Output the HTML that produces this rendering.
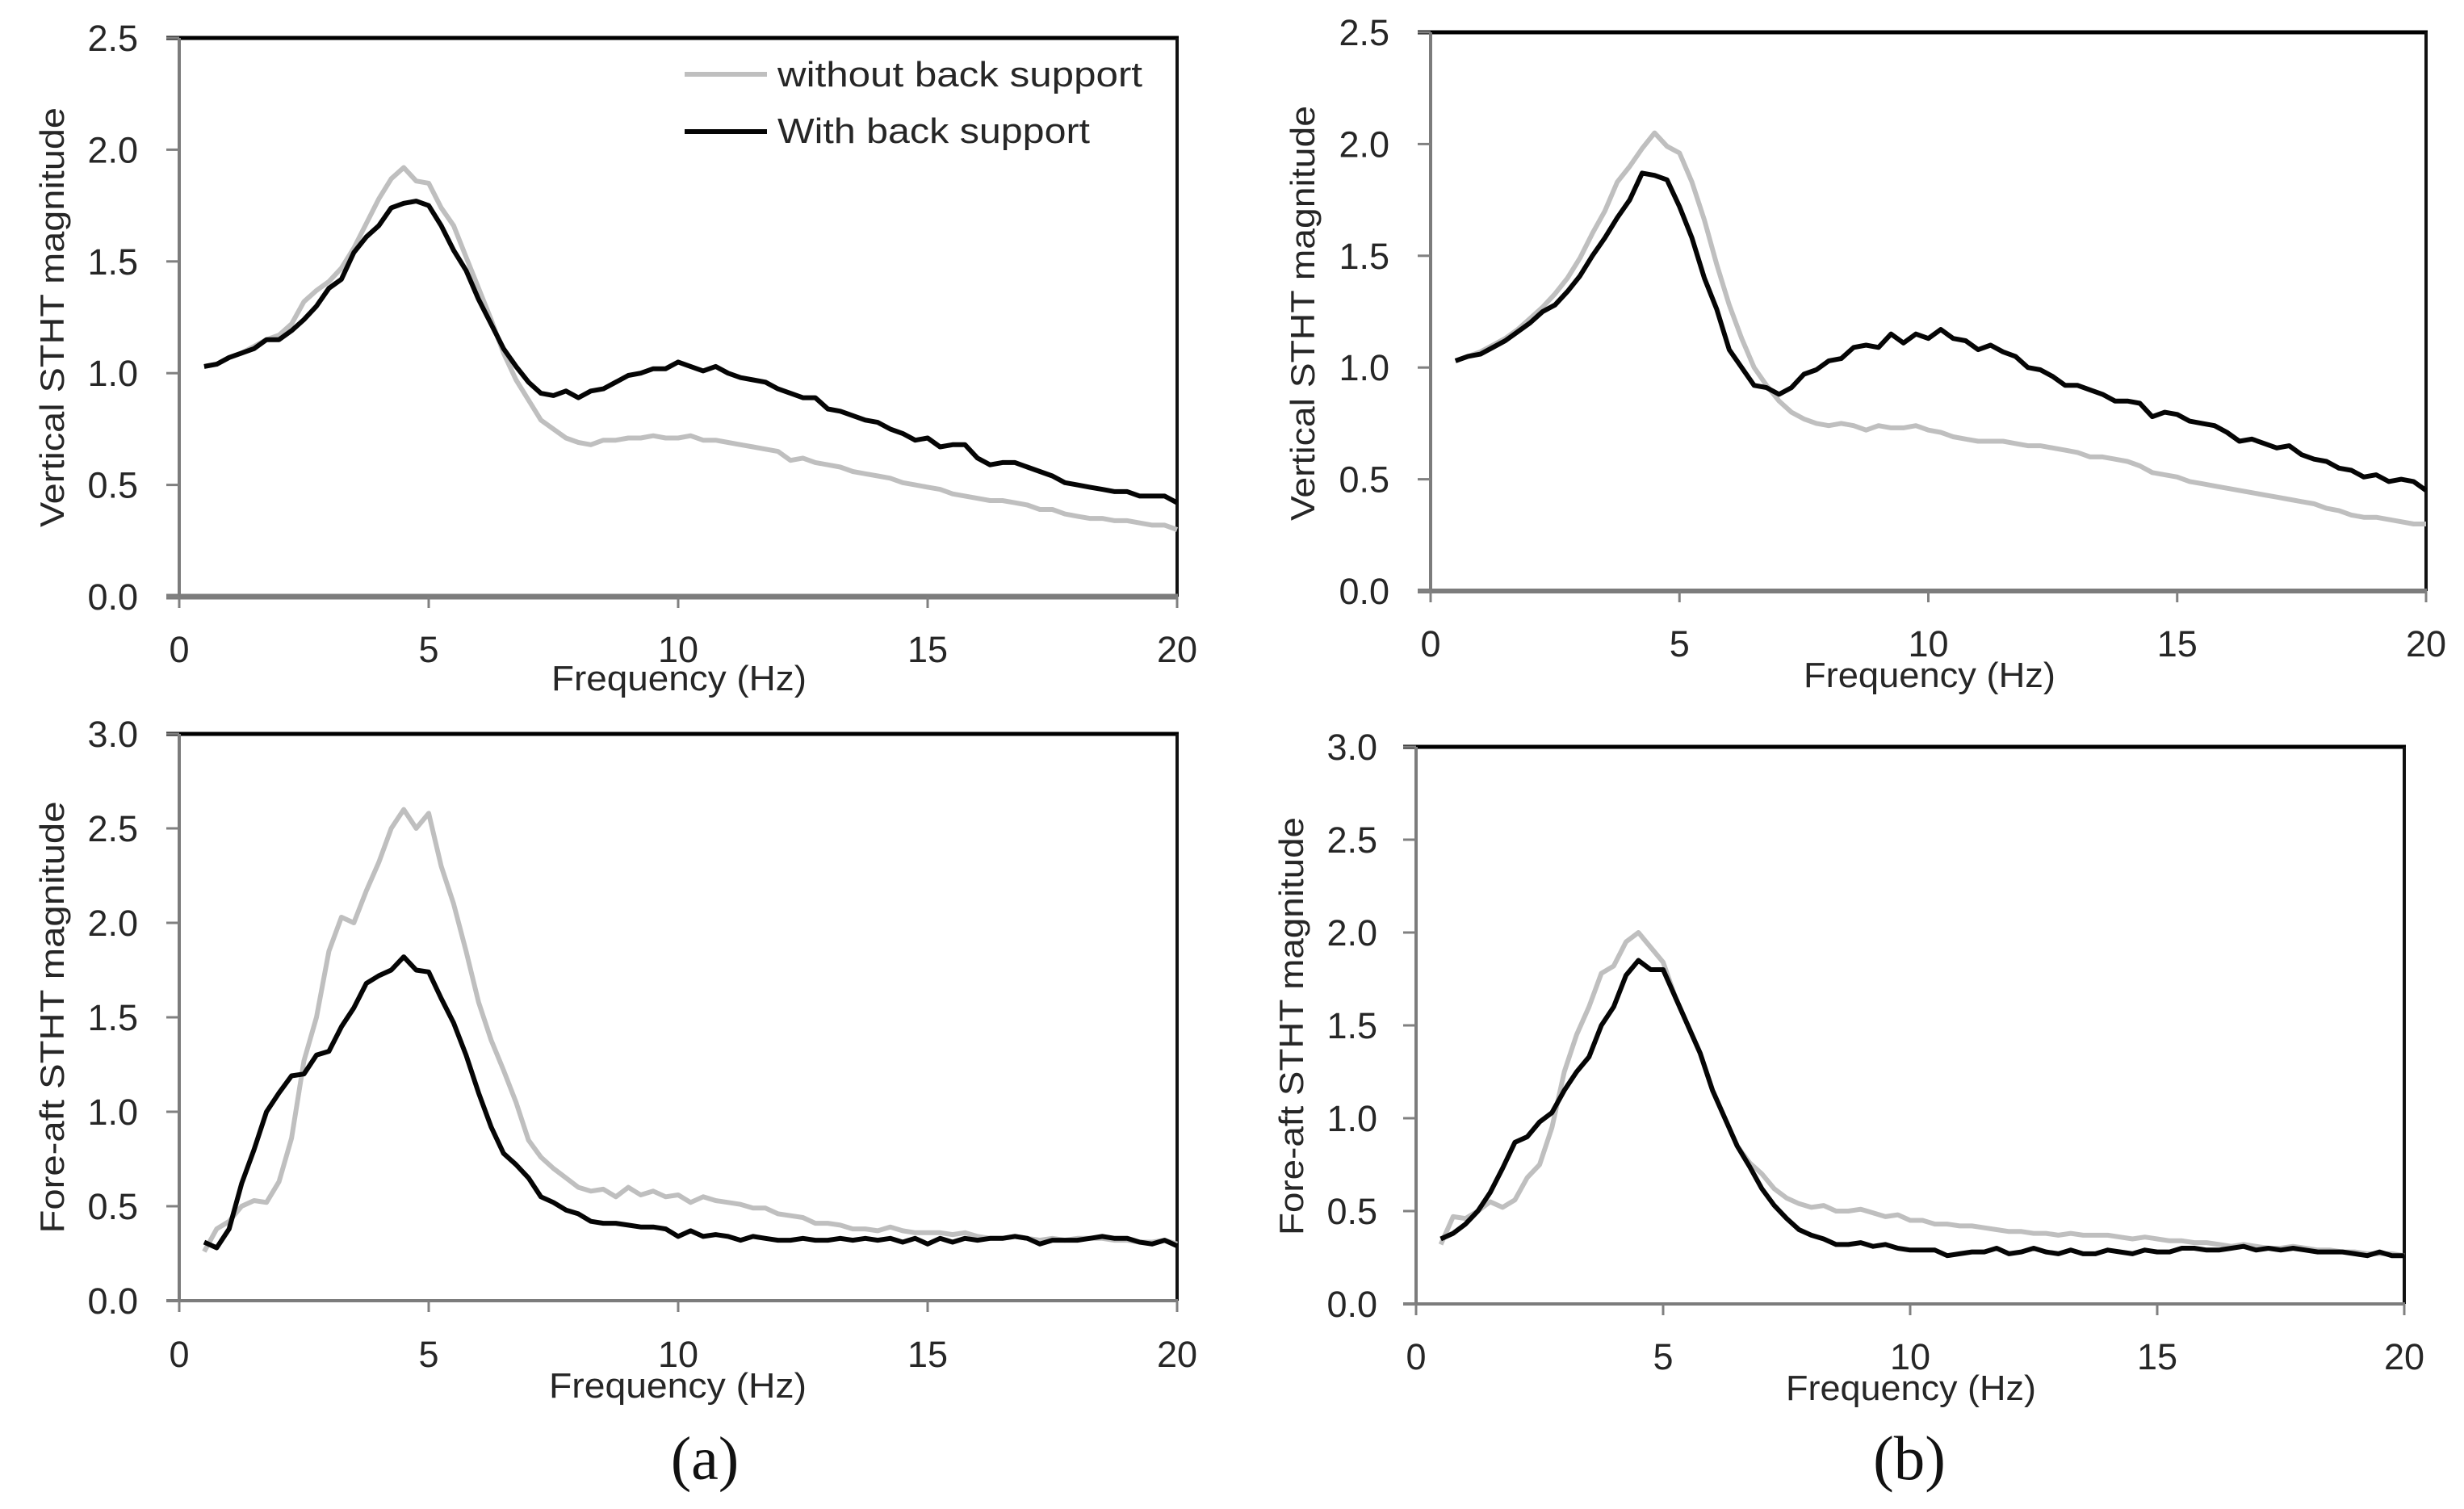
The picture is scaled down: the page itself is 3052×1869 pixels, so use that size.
<!DOCTYPE html>
<html>
<head>
<meta charset="utf-8">
<title>STHT magnitude charts</title>
<style>
html,body{margin:0;padding:0;background:#fff;}
svg{display:block;}
text{font-family:"Liberation Sans",sans-serif;fill:#262626;}
</style>
</head>
<body>
<svg id="figure" width="3052" height="1869" viewBox="0 0 3052 1869" xmlns="http://www.w3.org/2000/svg">
<rect width="3052" height="1869" fill="#ffffff"/>
</svg>
<script>
const freq = [
0.5,0.75,1,1.25,1.5,1.75,2,2.25,
2.5,2.75,3,3.25,3.5,3.75,4,4.25,
4.5,4.75,5,5.25,5.5,5.75,6,6.25,
6.5,6.75,7,7.25,7.5,7.75,8,8.25,
8.5,8.75,9,9.25,9.5,9.75,10,10.25,
10.5,10.75,11,11.25,11.5,11.75,12,12.25,
12.5,12.75,13,13.25,13.5,13.75,14,14.25,
14.5,14.75,15,15.25,15.5,15.75,16,16.25,
16.5,16.75,17,17.25,17.5,17.75,18,18.25,
18.5,18.75,19,19.25,19.5,19.75,20];
const xTickLabels = ["0","5","10","15","20"];
const yTicksVertical = ["0.0","0.5","1.0","1.5","2.0","2.5"];
const yTicksForeAft = ["0.0","0.5","1.0","1.5","2.0","2.5","3.0"];

const vertA_without = [
1.03,1.04,1.07,1.09,1.12,1.15,1.17,1.22,
1.32,1.37,1.41,1.47,1.56,1.67,1.78,1.87,
1.92,1.86,1.85,1.74,1.66,1.52,1.38,1.24,
1.09,0.97,0.88,0.79,0.75,0.71,0.69,0.68,
0.70,0.70,0.71,0.71,0.72,0.71,0.71,0.72,
0.70,0.70,0.69,0.68,0.67,0.66,0.65,0.61,
0.62,0.60,0.59,0.58,0.56,0.55,0.54,0.53,
0.51,0.50,0.49,0.48,0.46,0.45,0.44,0.43,
0.43,0.42,0.41,0.39,0.39,0.37,0.36,0.35,
0.35,0.34,0.34,0.33,0.32,0.32,0.30];
const vertA_with = [
1.03,1.04,1.07,1.09,1.11,1.15,1.15,1.19,
1.24,1.30,1.38,1.42,1.54,1.61,1.66,1.74,
1.76,1.77,1.75,1.66,1.55,1.46,1.33,1.22,
1.11,1.03,0.96,0.91,0.90,0.92,0.89,0.92,
0.93,0.96,0.99,1.00,1.02,1.02,1.05,1.03,
1.01,1.03,1.00,0.98,0.97,0.96,0.93,0.91,
0.89,0.89,0.84,0.83,0.81,0.79,0.78,0.75,
0.73,0.70,0.71,0.67,0.68,0.68,0.62,0.59,
0.60,0.60,0.58,0.56,0.54,0.51,0.50,0.49,
0.48,0.47,0.47,0.45,0.45,0.45,0.42];
const vertB_without = [
1.03,1.05,1.07,1.10,1.13,1.17,1.22,1.27,
1.33,1.40,1.49,1.60,1.70,1.83,1.90,1.98,
2.05,1.99,1.96,1.83,1.66,1.46,1.28,1.13,
1.00,0.92,0.85,0.80,0.77,0.75,0.74,0.75,
0.74,0.72,0.74,0.73,0.73,0.74,0.72,0.71,
0.69,0.68,0.67,0.67,0.67,0.66,0.65,0.65,
0.64,0.63,0.62,0.60,0.60,0.59,0.58,0.56,
0.53,0.52,0.51,0.49,0.48,0.47,0.46,0.45,
0.44,0.43,0.42,0.41,0.40,0.39,0.37,0.36,
0.34,0.33,0.33,0.32,0.31,0.30,0.30];
const vertB_with = [
1.03,1.05,1.06,1.09,1.12,1.16,1.20,1.25,
1.28,1.34,1.41,1.50,1.58,1.67,1.75,1.87,
1.86,1.84,1.72,1.58,1.40,1.26,1.08,1.00,
0.92,0.91,0.88,0.91,0.97,0.99,1.03,1.04,
1.09,1.10,1.09,1.15,1.11,1.15,1.13,1.17,
1.13,1.12,1.08,1.10,1.07,1.05,1.00,0.99,
0.96,0.92,0.92,0.90,0.88,0.85,0.85,0.84,
0.78,0.80,0.79,0.76,0.75,0.74,0.71,0.67,
0.68,0.66,0.64,0.65,0.61,0.59,0.58,0.55,
0.54,0.51,0.52,0.49,0.50,0.49,0.45];
const foreA_without = [
0.26,0.38,0.42,0.50,0.53,0.52,0.63,0.86,
1.27,1.50,1.85,2.03,2.00,2.17,2.32,2.50,
2.60,2.50,2.58,2.30,2.10,1.85,1.58,1.38,
1.22,1.05,0.85,0.76,0.70,0.65,0.60,0.58,
0.59,0.55,0.60,0.56,0.58,0.55,0.56,0.52,
0.55,0.53,0.52,0.51,0.49,0.49,0.46,0.45,
0.44,0.41,0.41,0.40,0.38,0.38,0.37,0.39,
0.37,0.36,0.36,0.36,0.35,0.36,0.34,0.33,
0.33,0.34,0.33,0.32,0.33,0.32,0.33,0.33,
0.33,0.32,0.32,0.31,0.31,0.32,0.30];
const foreA_with = [
0.31,0.28,0.38,0.62,0.80,1.00,1.10,1.19,
1.20,1.30,1.32,1.45,1.55,1.68,1.72,1.75,
1.82,1.75,1.74,1.60,1.47,1.30,1.10,0.92,
0.78,0.72,0.65,0.55,0.52,0.48,0.46,0.42,
0.41,0.41,0.40,0.39,0.39,0.38,0.34,0.37,
0.34,0.35,0.34,0.32,0.34,0.33,0.32,0.32,
0.33,0.32,0.32,0.33,0.32,0.33,0.32,0.33,
0.31,0.33,0.30,0.33,0.31,0.33,0.32,0.33,
0.33,0.34,0.33,0.30,0.32,0.32,0.32,0.33,
0.34,0.33,0.33,0.31,0.30,0.32,0.29];
const foreB_without = [
0.32,0.47,0.46,0.50,0.55,0.52,0.56,0.68,
0.75,0.95,1.25,1.45,1.60,1.78,1.82,1.95,
2.00,1.92,1.84,1.65,1.50,1.35,1.15,1.00,
0.85,0.76,0.70,0.62,0.57,0.54,0.52,0.53,
0.50,0.50,0.51,0.49,0.47,0.48,0.45,0.45,
0.43,0.43,0.42,0.42,0.41,0.40,0.39,0.39,
0.38,0.38,0.37,0.38,0.37,0.37,0.37,0.36,
0.35,0.36,0.35,0.34,0.34,0.33,0.33,0.32,
0.31,0.32,0.31,0.30,0.30,0.31,0.30,0.29,
0.29,0.28,0.28,0.27,0.27,0.27,0.26];
const foreB_with = [
0.35,0.38,0.43,0.50,0.60,0.73,0.87,0.90,
0.98,1.03,1.15,1.25,1.33,1.50,1.60,1.77,
1.85,1.80,1.80,1.65,1.50,1.35,1.15,1.00,
0.85,0.74,0.62,0.53,0.46,0.40,0.37,0.35,
0.32,0.32,0.33,0.31,0.32,0.30,0.29,0.29,
0.29,0.26,0.27,0.28,0.28,0.30,0.27,0.28,
0.30,0.28,0.27,0.29,0.27,0.27,0.29,0.28,
0.27,0.29,0.28,0.28,0.30,0.30,0.29,0.29,
0.30,0.31,0.29,0.30,0.29,0.30,0.29,0.28,
0.28,0.28,0.27,0.26,0.28,0.26,0.26];

const NS = "http://www.w3.org/2000/svg";
const svg = document.getElementById("figure");

function make(parent, tag, attrs, txt){
  const e = document.createElementNS(NS, tag);
  for (const k in attrs) e.setAttribute(k, attrs[k]);
  if (txt !== undefined) e.textContent = txt;
  parent.appendChild(e);
  return e;
}

function drawPanel(p){
  const g = make(svg, "g", {});
  
  
  const xMax = Number(xTickLabels[xTickLabels.length - 1]);
  const yMax = Number(p.yTicks[p.yTicks.length - 1]);
  const sx = v => p.left + (v / xMax) * (p.right - p.left);
  const sy = v => p.bottom - (v / yMax) * (p.bottom - p.top);

  const plot = make(g, "rect", {x:p.left, y:p.top, width:p.right-p.left, height:p.bottom-p.top, fill:"#fff"});
  
  

  const topBorder = make(g, "line", {x1:p.left-16, x2:p.right+2, y1:p.top, y2:p.top, stroke:"#000", "stroke-width":5});
  
  
  const rightBorder = make(g, "line", {x1:p.right, x2:p.right, y1:p.top, y2:p.bottom, stroke:"#111", "stroke-width":4});
  
  
  const yAxis = make(g, "line", {x1:p.left, x2:p.left, y1:p.top, y2:p.bottom, stroke:"#7c7c7c", "stroke-width":4});
  
  
  const xAxis = make(g, "line", {x1:p.left-16, x2:p.right+1, y1:p.bottom, y2:p.bottom, stroke:"#7c7c7c", "stroke-width":p.axisWidth});
  
  

  p.yTicks.forEach(function(label){
    const y = sy(Number(label));
    const tick = make(g, "line", {x1:p.left-16, x2:p.left, y1:y, y2:y, stroke:"#808080", "stroke-width":3});
    
    
    const t = make(g, "text", {x:p.yLabelRight, y:y+16, "text-anchor":"end", "font-size":45}, label);
    
    
  });
  xTickLabels.forEach(function(label){
    const x = sx(Number(label));
    const tick = make(g, "line", {x1:x, x2:x, y1:p.bottom, y2:p.bottom+14, stroke:"#808080", "stroke-width":3});
    
    
    const t = make(g, "text", {x:x, y:p.xLabelBase, "text-anchor":"middle", "font-size":45}, label);
    
    
  });

  const toPath = vals => vals.map((v,i) => (i ? "L" : "M") + sx(freq[i]).toFixed(1) + " " + sy(v).toFixed(1)).join("");
  const gray = make(g, "path", {d:toPath(p.without), fill:"none", stroke:"#bfbfbf", "stroke-width":6, "stroke-linejoin":"round"});
  
  
  const black = make(g, "path", {d:toPath(p.with), fill:"none", stroke:"#050505", "stroke-width":6, "stroke-linejoin":"round"});
  
  

  const xt = make(g, "text", {x:p.xTitleX, y:p.xTitleY, "font-size":44, textLength:p.xTitleLen, lengthAdjust:"spacingAndGlyphs"}, "Frequency (Hz)");
  
  
  const yt = make(g, "text", {transform:"translate("+p.yTitleX+" "+p.yTitleY+") rotate(-90)", "text-anchor":"middle", "font-size":42, textLength:p.yTitleLen, lengthAdjust:"spacingAndGlyphs"}, p.yTitle);
  
  
}

drawPanel({id:"vertical-a", left:222, right:1458, top:47, bottom:739, axisWidth:7, yTicks:yTicksVertical, without:vertA_without, with:vertA_with,
  yLabelRight:171, xLabelBase:820, xTitleX:683, xTitleY:855, xTitleLen:316, yTitle:"Vertical STHT magnitude", yTitleX:79, yTitleY:393, yTitleLen:520});
drawPanel({id:"vertical-b", left:1772, right:3005, top:40, bottom:732, axisWidth:6, yTicks:yTicksVertical, without:vertB_without, with:vertB_with,
  yLabelRight:1721, xLabelBase:813, xTitleX:2234, xTitleY:851, xTitleLen:312, yTitle:"Vertical STHT magnitude", yTitleX:1628, yTitleY:388, yTitleLen:514});
drawPanel({id:"fore-aft-a", left:222, right:1458, top:909, bottom:1611, axisWidth:4, yTicks:yTicksForeAft, without:foreA_without, with:foreA_with,
  yLabelRight:171, xLabelBase:1693, xTitleX:680, xTitleY:1731, xTitleLen:319, yTitle:"Fore-aft STHT magnitude", yTitleX:79, yTitleY:1260, yTitleLen:535});
drawPanel({id:"fore-aft-b", left:1754, right:2978, top:925, bottom:1615, axisWidth:4, yTicks:yTicksForeAft, without:foreB_without, with:foreB_with,
  yLabelRight:1706, xLabelBase:1696, xTitleX:2212, xTitleY:1734, xTitleLen:310, yTitle:"Fore-aft STHT magnitude", yTitleX:1614, yTitleY:1271, yTitleLen:518});

const legend = make(svg, "g", {});


const legendLine1 = make(legend, "line", {x1:848, x2:950, y1:92, y2:92, stroke:"#bfbfbf", "stroke-width":6});


const legendText1 = make(legend, "text", {x:963, y:107, "font-size":44, textLength:452, lengthAdjust:"spacingAndGlyphs"}, "without back support");


const legendLine2 = make(legend, "line", {x1:848, x2:950, y1:163, y2:163, stroke:"#050505", "stroke-width":6});


const legendText2 = make(legend, "text", {x:963, y:177, "font-size":44, textLength:387, lengthAdjust:"spacingAndGlyphs"}, "With back support");



const capA = make(svg, "text", {x:873, y:1832, "text-anchor":"middle", "font-size":76, style:"font-family:'Liberation Serif',serif;fill:#111"}, "(a)");


const capB = make(svg, "text", {x:2365, y:1832, "text-anchor":"middle", "font-size":77, style:"font-family:'Liberation Serif',serif;fill:#111"}, "(b)");


</script>
</body>
</html>
